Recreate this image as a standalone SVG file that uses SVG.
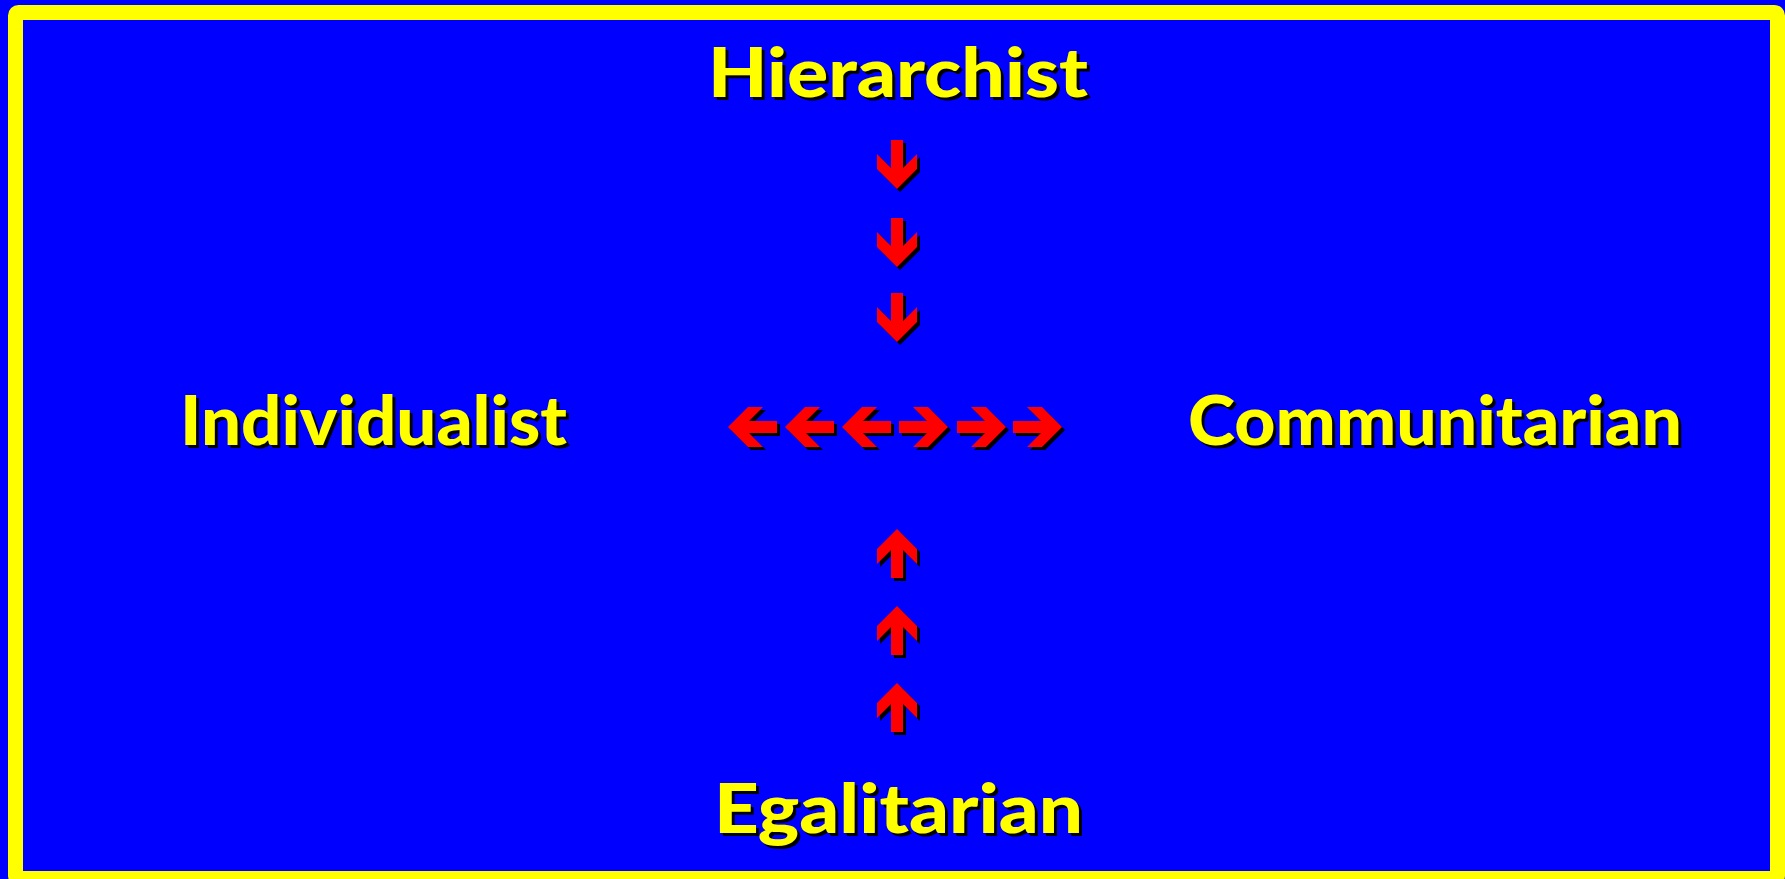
<svg xmlns="http://www.w3.org/2000/svg" xmlns:xlink="http://www.w3.org/1999/xlink" width="1785" height="879" viewBox="0 0 1785 879">
<style>
.lbl{font-family:Lato,"Open Sans","Liberation Sans",sans-serif;font-weight:900;font-size:69px}
.fg{fill:#FFFF00}
.sh{fill:#000000}
.ar{fill:#FF0000}
</style>
<defs>
<path id="arr" d="M0,0 L-20,-20 L-35,-20 L-21,-6 L-49,-6 L-49,6 L-21,6 L-35,20 L-20,20 Z"/>
</defs>
<rect x="0" y="0" width="1785" height="879" fill="#0000FF"/>
<rect x="15.5" y="12.5" width="1762" height="866" fill="#0000FF" stroke="#FFFF00" stroke-width="15" rx="3"/>
<g id="hierarchist">
<text class="lbl sh" x="711" y="100" textLength="380" lengthAdjust="spacingAndGlyphs">Hierarchist</text>
<text class="lbl fg" x="708" y="97" textLength="380" lengthAdjust="spacingAndGlyphs">Hierarchist</text>
</g>
<g id="individualist">
<text class="lbl sh" x="183" y="448" textLength="387" lengthAdjust="spacingAndGlyphs">Individualist</text>
<text class="lbl fg" x="180" y="445" textLength="387" lengthAdjust="spacingAndGlyphs">Individualist</text>
</g>
<g id="communitarian">
<text class="lbl sh" x="1191" y="448" textLength="494" lengthAdjust="spacingAndGlyphs">Communitarian</text>
<text class="lbl fg" x="1188" y="445" textLength="494" lengthAdjust="spacingAndGlyphs">Communitarian</text>
</g>
<g id="egalitarian">
<text class="lbl sh" x="717" y="836" textLength="369" lengthAdjust="spacingAndGlyphs">Egalitarian</text>
<text class="lbl fg" x="714" y="833" textLength="369" lengthAdjust="spacingAndGlyphs">Egalitarian</text>
</g>
<g id="connectors">
<g class="sh" transform="translate(3,3)">
<use xlink:href="#arr" transform="translate(897,189) rotate(90)"/>
<use xlink:href="#arr" transform="translate(897,267) rotate(90)"/>
<use xlink:href="#arr" transform="translate(897,342) rotate(90)"/>
<use xlink:href="#arr" transform="translate(897,529) rotate(-90)"/>
<use xlink:href="#arr" transform="translate(897,606) rotate(-90)"/>
<use xlink:href="#arr" transform="translate(897,683) rotate(-90)"/>
<use xlink:href="#arr" transform="translate(728,427) rotate(180)"/>
<use xlink:href="#arr" transform="translate(785,427) rotate(180)"/>
<use xlink:href="#arr" transform="translate(842,427) rotate(180)"/>
<use xlink:href="#arr" transform="translate(948,427)"/>
<use xlink:href="#arr" transform="translate(1006,427)"/>
<use xlink:href="#arr" transform="translate(1062,427)"/>
</g>
<g class="ar">
<use xlink:href="#arr" transform="translate(897,189) rotate(90)"/>
<use xlink:href="#arr" transform="translate(897,267) rotate(90)"/>
<use xlink:href="#arr" transform="translate(897,342) rotate(90)"/>
<use xlink:href="#arr" transform="translate(897,529) rotate(-90)"/>
<use xlink:href="#arr" transform="translate(897,606) rotate(-90)"/>
<use xlink:href="#arr" transform="translate(897,683) rotate(-90)"/>
<use xlink:href="#arr" transform="translate(728,427) rotate(180)"/>
<use xlink:href="#arr" transform="translate(785,427) rotate(180)"/>
<use xlink:href="#arr" transform="translate(842,427) rotate(180)"/>
<use xlink:href="#arr" transform="translate(948,427)"/>
<use xlink:href="#arr" transform="translate(1006,427)"/>
<use xlink:href="#arr" transform="translate(1062,427)"/>
</g>
</g>
</svg>
